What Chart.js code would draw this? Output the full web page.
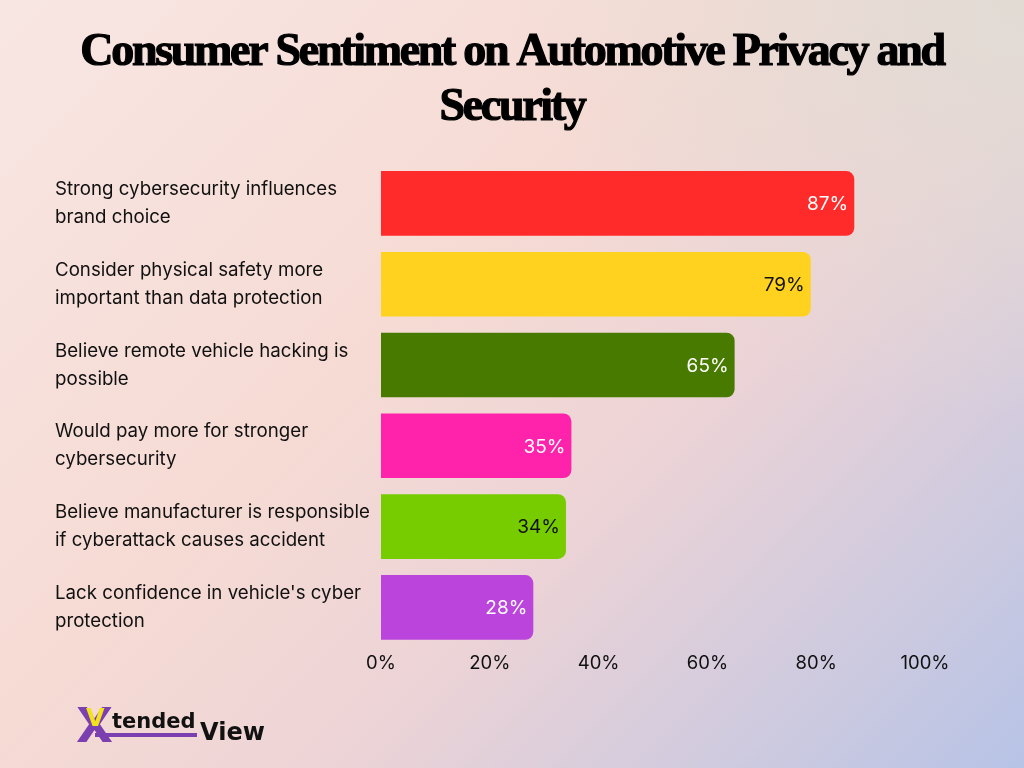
<!DOCTYPE html>
<html>
<head>
<meta charset="utf-8">
<script src="https://cdn.jsdelivr.net/npm/chart.js@4/dist/chart.umd.min.js"></script>
<style>
  html, body { margin: 0; padding: 0; width: 1024px; height: 768px; overflow: hidden; }
  body {
    background:
      radial-gradient(ellipse 520px 420px at 1024px 0px, rgba(224,220,212,0.9), rgba(224,220,212,0) 100%),
      linear-gradient(135deg, #f8e6e3 0%, #f6dbd4 40%, #ecd3d6 62%, #b7c3e6 100%);
  }
  #wrap { position: absolute; left: 0; top: 0; width: 1024px; height: 768px; }
</style>
</head>
<body>
<div id="wrap"><canvas id="c" width="1024" height="768"></canvas></div>
<script>
const titleLines = ["Consumer Sentiment on Automotive Privacy and", "Security"];
const categories = [
  ["Strong cybersecurity influences", "brand choice"],
  ["Consider physical safety more", "important than data protection"],
  ["Believe remote vehicle hacking is", "possible"],
  ["Would pay more for stronger", "cybersecurity"],
  ["Believe manufacturer is responsible", "if cyberattack causes accident"],
  ["Lack confidence in vehicle's cyber", "protection"]
];
const values = [87, 79, 65, 35, 34, 28];
const barColors = ["#ff2a2a", "#ffd21f", "#497a00", "#ff22aa", "#77cc00", "#bb44dd"];
const labelColors = ["#ffffff", "#111111", "#ffffff", "#ffffff", "#111111", "#ffffff"];
const xTicks = [0, 20, 40, 60, 80, 100];

const valueLabels = {
  id: 'valueLabels',
  afterDatasetsDraw(chart) {
    const ctx = chart.ctx;
    const meta = chart.getDatasetMeta(0);
    ctx.save();
    ctx.font = '19px Inter';
    ctx.textAlign = 'right';
    ctx.textBaseline = 'middle';
    meta.data.forEach((bar, i) => {
      ctx.fillStyle = labelColors[i];
      ctx.fillText(values[i] + '%', bar.x - 6, bar.y + 1);
    });
    ctx.restore();
  }
};

const decor = {
  id: 'decor',
  afterDraw(chart) {
    const ctx = chart.ctx;
    ctx.save();
    // title
    ctx.fillStyle = '#000';
    ctx.strokeStyle = '#000';
    ctx.lineWidth = 1.2;
    ctx.textAlign = 'center';
    ctx.textBaseline = 'alphabetic';
    ctx.font = 'bold 46px "Liberation Serif"';
    ctx.letterSpacing = '-2.3px';
    titleLines.forEach((t, i) => {
      const y = 65 + i * 55;
      ctx.fillText(t, 512, y);
      ctx.strokeText(t, 512, y);
    });
    ctx.letterSpacing = '0px';
    // logo
    ctx.textAlign = 'left';
    ctx.fillStyle = '#7b3fb0';
    ctx.font = 'bold 48px "DejaVu Sans"';
    ctx.fillText('X', 76, 742);
    ctx.fillStyle = '#f2e21a';
    ctx.font = 'bold 24px "DejaVu Sans"';
    ctx.fillText('V', 86, 726);
    ctx.fillStyle = '#7b3fb0';
    ctx.fillRect(95, 733, 102, 4);
    ctx.fillStyle = '#111';
    ctx.font = 'bold 21px "DejaVu Sans"';
    ctx.fillText('tended', 112, 728);
    ctx.font = 'bold 24px "DejaVu Sans"';
    ctx.fillText('View', 200, 740);
    ctx.restore();
  }
};

new Chart(document.getElementById('c'), {
  type: 'bar',
  data: {
    labels: categories,
    datasets: [{
      data: values,
      backgroundColor: barColors,
      borderRadius: 8,
      borderSkipped: 'start',
      barPercentage: 0.8,
      categoryPercentage: 1.0
    }]
  },
  options: {
    indexAxis: 'y',
    responsive: false,
    animation: false,
    layout: { padding: { left: 55, right: 99, top: 163, bottom: 88 } },
    plugins: { legend: { display: false }, tooltip: { enabled: false }, title: { display: false } },
    scales: {
      x: {
        min: 0, max: 100,
        afterBuildTicks(scale) { scale.ticks = xTicks.map(v => ({ value: v })); },
        grid: { display: false, drawTicks: false },
        border: { display: false },
        ticks: {
          color: '#111', padding: 5,
          font: { family: 'Inter', size: 18.5 },
          callback: v => v + '%'
        }
      },
      y: {
        grid: { display: false, drawTicks: false },
        border: { display: false },
        afterFit(scale) { scale.width = 326; },
        ticks: {
          color: '#111', crossAlign: 'far', padding: 0,
          font: { family: 'Inter', size: 18.7, lineHeight: 1.5 }
        }
      }
    }
  },
  plugins: [valueLabels, decor]
});
</script>
</body>
</html>
